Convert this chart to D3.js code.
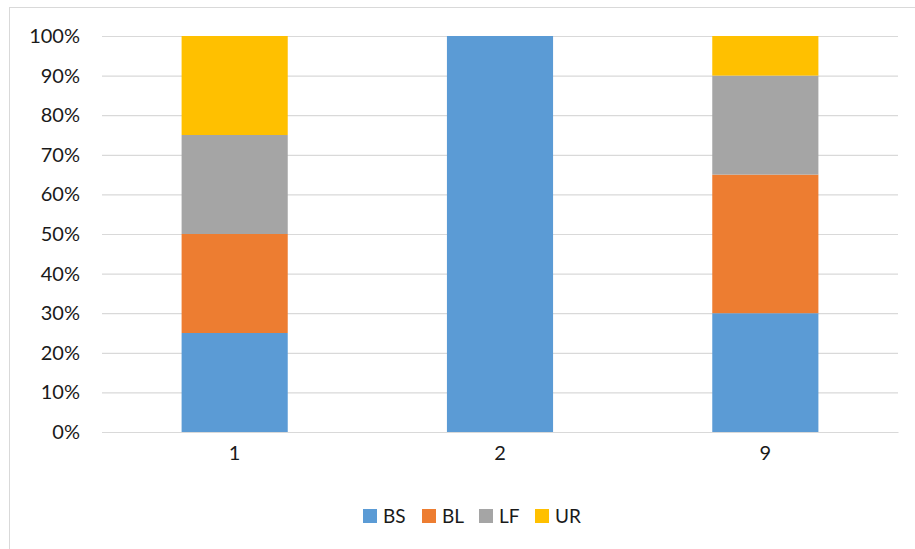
<!DOCTYPE html>
<html><head><meta charset="utf-8">
<script src="https://cdn.jsdelivr.net/npm/d3@7"></script>
<style>body{margin:0;background:#fff;}svg{display:block;font-family:Lato,"Open Sans",sans-serif;}</style>
</head><body>
<script>
const categories = ["1", "2", "9"];
const seriesNames = ["BS", "BL", "LF", "UR"];
const seriesColors = ["#5B9BD5", "#ED7D31", "#A5A5A5", "#FFC000"];
const BS = [25, 100, 30];
const BL = [25, 0, 35];
const LF = [25, 0, 25];
const UR = [25, 0, 10];
const yTicks = [0, 0.1, 0.2, 0.3, 0.4, 0.5, 0.6, 0.7, 0.8, 0.9, 1];

const W = 915, H = 549;
const svg = d3.select("body").append("svg").attr("width", W).attr("height", H);
svg.append("rect").attr("x", 9.5).attr("y", 7.5).attr("width", W).attr("height", H)
  .attr("fill", "#fff").attr("stroke", "#d9d9d9").attr("stroke-width", 1);

const x = d3.scaleBand().domain(categories).range([102, 898]).paddingInner(0.6).paddingOuter(0.3);
const y = d3.scaleLinear().domain([0, 1]).range([432, 36]);

const yAxis = svg.append("g").attr("transform", "translate(102,0)")
  .call(d3.axisLeft(y).tickValues(yTicks).tickFormat(d3.format(".0%")).tickSize(-796).tickPadding(22));
yAxis.select(".domain").remove();
yAxis.selectAll("line").attr("stroke", "#d9d9d9").attr("stroke-width", 1.2);
yAxis.selectAll("text").attr("font-size", 20).attr("fill", "#1a1a1a").attr("font-family", "Lato");

const xAxis = svg.append("g").attr("transform", "translate(0,432)")
  .call(d3.axisBottom(x).tickSize(0).tickPadding(14));
xAxis.select(".domain").attr("stroke", "#d9d9d9").attr("stroke-width", 1.2);
xAxis.selectAll("text").attr("font-size", 20).attr("fill", "#1a1a1a").attr("font-family", "Lato");

const rows = categories.map((c, i) => ({cat: c, BS: BS[i], BL: BL[i], LF: LF[i], UR: UR[i]}));
const stack = d3.stack().keys(seriesNames).offset(d3.stackOffsetExpand);
const layers = stack(rows);
const color = d3.scaleOrdinal().domain(seriesNames).range(seriesColors);

svg.append("g").selectAll("g").data(layers).join("g").attr("fill", d => color(d.key))
  .selectAll("rect").data(d => d).join("rect")
  .attr("x", d => x(d.data.cat))
  .attr("width", x.bandwidth())
  .attr("y", d => y(d[1]))
  .attr("height", d => y(d[0]) - y(d[1]));

// bring axis line above bars
xAxis.raise();

const legendX = [363, 422, 479, 535];
const lg = svg.append("g");
seriesNames.forEach((n, i) => {
  lg.append("rect").attr("x", legendX[i]).attr("y", 509).attr("width", 14).attr("height", 14).attr("fill", color(n));
  lg.append("text").attr("x", legendX[i] + 20).attr("y", 523).attr("font-size", 19).attr("fill", "#1a1a1a").text(n);
});
</script>
</body></html>
